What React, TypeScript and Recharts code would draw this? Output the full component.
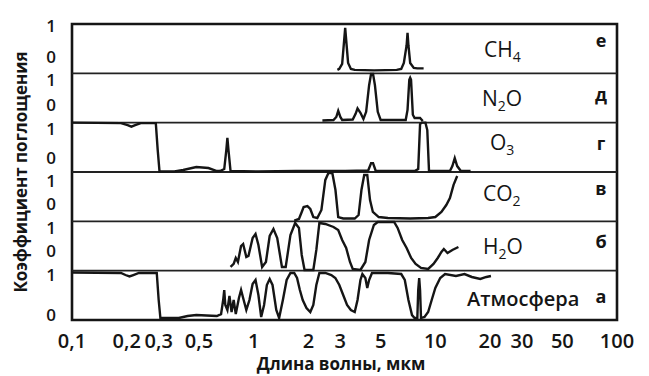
import React from "react";
import { LineChart, Line, XAxis, YAxis, ReferenceLine, ReferenceArea } from "recharts";

// wavelength ticks (µm), log axis
const xTicks = [0.1, 0.2, 0.3, 0.5, 1, 2, 3, 5, 10, 20, 30, 50, 100];
const yTickValues = [0.1, 0.91, 1.4, 1.86, 2.35, 2.82, 3.28, 3.87, 4.36, 4.865, 5.33, 5.97];
const yTickLabels = ["0", "1", "0", "1", "0", "1", "0", "1", "0", "1", "0", "1"];

// panels from bottom to top
const panelLetters = ["а", "б", "в", "г", "д", "е"];

const ch4Wavelength = [2.89, 2.96, 3.07, 3.15, 3.19, 3.23, 3.31, 3.43, 3.6, 4.6, 6.13, 6.49, 6.71, 6.95, 7.03, 7.11, 7.27, 7.61, 7.96, 8.62];
const ch4Absorption = [0.07, 0.09, 0.19, 0.68, 0.92, 0.68, 0.21, 0.09, 0.07, 0.06, 0.07, 0.09, 0.21, 0.57, 0.82, 0.57, 0.21, 0.11, 0.1, 0.1];

const n2oWavelength = [2.39, 2.75, 2.85, 2.92, 3.0, 3.07, 3.51, 3.64, 3.73, 3.87, 4.02, 4.16, 4.32, 4.43, 4.54, 4.65, 4.82, 5.0, 5.8, 6.87, 7.03, 7.19, 7.27, 7.35, 7.52, 7.69, 8.24, 8.53];
const n2oAbsorption = [0.045, 0.055, 0.115, 0.24, 0.115, 0.055, 0.065, 0.18, 0.29, 0.2, 0.075, 0.22, 0.76, 0.99, 0.99, 0.76, 0.22, 0.055, 0.055, 0.055, 0.26, 0.87, 0.91, 0.87, 0.16, 0.095, 0.095, 0.035];

const o3Wavelength = [0.1, 0.186, 0.2024, 0.2123, 0.2227, 0.239, 0.2893, 0.2963, 0.3032, 0.3663, 0.409, 0.4834, 0.5637, 0.627, 0.6528, 0.6887, 0.7072, 0.7167, 0.7264, 0.746, 1.06, 1.71, 3.19, 4.27, 4.43, 4.54, 4.7, 7.7, 8.05, 8.24, 8.43, 8.82, 9.03, 9.23, 12.03, 12.41, 12.79, 13.19, 13.82, 15.63];
const o3Absorption = [1.0, 0.99, 0.95, 0.92, 0.95, 0.99, 0.99, 0.45, 0.01, 0.01, 0.04, 0.1, 0.08, 0.02, 0.02, 0.06, 0.45, 0.69, 0.45, 0.02, 0.01, 0.02, 0.02, 0.03, 0.18, 0.18, 0.02, 0.02, 0.06, 0.97, 1.0, 1.0, 0.85, 0.02, 0.02, 0.12, 0.28, 0.12, 0.02, 0.02];

const co2Wavelength = [1.672, 1.775, 1.839, 1.884, 1.976, 2.05, 2.13, 2.24, 2.36, 2.48, 2.58, 2.71, 2.82, 2.92, 3.11, 3.6, 3.78, 3.92, 4.06, 4.22, 4.37, 4.53, 4.88, 5.48, 7.27, 9.13, 10.0, 10.8, 11.49, 12.03, 12.6, 13.19];
const co2Absorption = [0.016, 0.047, 0.19, 0.29, 0.31, 0.25, 0.087, 0.067, 0.23, 0.84, 0.98, 0.98, 0.635, 0.087, 0.057, 0.057, 0.128, 0.635, 0.94, 0.94, 0.43, 0.19, 0.087, 0.067, 0.057, 0.067, 0.087, 0.19, 0.33, 0.47, 0.74, 0.92];

const h2oWavelength = [0.746, 0.776, 0.797, 0.819, 0.852, 0.875, 0.911, 0.936, 0.987, 1.024, 1.062, 1.113, 1.168, 1.225, 1.285, 1.348, 1.431, 1.501, 1.594, 1.692, 1.775, 1.839, 1.906, 2.13, 2.213, 2.3, 2.48, 2.75, 2.92, 3.07, 3.23, 3.39, 3.51, 3.87, 4.12, 4.32, 4.59, 4.82, 5.93, 6.2, 6.57, 6.95, 7.36, 7.79, 8.34, 9.13, 9.77, 10.31, 10.8, 11.14, 11.67, 12.41, 13.4];
const h2oAbsorption = [0.075, 0.136, 0.257, 0.176, 0.5, 0.54, 0.278, 0.298, 0.663, 0.744, 0.521, 0.075, 0.176, 0.703, 0.845, 0.663, 0.075, 0.075, 0.724, 0.967, 0.866, 0.318, 0.014, 0.014, 0.42, 0.967, 0.947, 0.886, 0.825, 0.622, 0.46, 0.176, 0.034, 0.014, 0.176, 0.622, 0.926, 0.987, 0.987, 0.866, 0.622, 0.46, 0.257, 0.136, 0.055, 0.034, 0.136, 0.257, 0.379, 0.44, 0.359, 0.42, 0.48];

const atmWavelength = [0.1, 0.186, 0.197, 0.2072, 0.2175, 0.2335, 0.2928, 0.3, 0.3066, 0.3872, 0.4327, 0.4834, 0.549, 0.627, 0.6616, 0.6795, 0.6887, 0.698, 0.7167, 0.7358, 0.7558, 0.7762, 0.7972, 0.8296, 0.8524, 0.8751, 0.911, 0.948, 0.9867, 1.024, 1.062, 1.1, 1.141, 1.182, 1.225, 1.27, 1.332, 1.381, 1.448, 1.519, 1.594, 1.672, 1.733, 1.796, 1.862, 1.953, 2.05, 2.13, 2.213, 2.3, 2.48, 2.676, 2.816, 2.961, 3.11, 3.266, 3.428, 3.6, 3.73, 3.87, 3.967, 4.12, 4.22, 4.32, 4.48, 5.48, 6.49, 6.79, 7.11, 7.44, 7.69, 7.96, 8.05, 8.15, 8.24, 8.34, 8.72, 9.13, 9.55, 10.0, 10.64, 11.31, 12.99, 14.47, 15.88, 17.68, 19.1, 20.24];
const atmAbsorption = [0.963, 0.953, 0.912, 0.882, 0.912, 0.953, 0.953, 0.405, 0.04, 0.04, 0.081, 0.1, 0.091, 0.081, 0.12, 0.405, 0.608, 0.304, 0.203, 0.487, 0.162, 0.405, 0.12, 0.446, 0.608, 0.446, 0.203, 0.405, 0.73, 0.811, 0.507, 0.061, 0.304, 0.71, 0.831, 0.71, 0.203, 0.04, 0.405, 0.811, 0.953, 0.953, 0.851, 0.608, 0.405, 0.243, 0.162, 0.304, 0.71, 0.953, 0.953, 0.912, 0.851, 0.71, 0.507, 0.304, 0.203, 0.162, 0.405, 0.811, 0.932, 0.851, 0.649, 0.811, 0.953, 0.953, 0.932, 0.811, 0.405, 0.1, 0.04, 0.04, 0.608, 0.851, 0.608, 0.04, 0.061, 0.162, 0.405, 0.649, 0.851, 0.932, 0.892, 0.932, 0.872, 0.831, 0.872, 0.892];

// each panel is one unit tall, panel 0 at the bottom
const rows = (xs: number[], ys: number[], panel: number) =>
  xs.map((x, i) => ({ x, y: panel + ys[i] }));

const series = [
  rows(atmWavelength, atmAbsorption, 0),
  rows(h2oWavelength, h2oAbsorption, 1),
  rows(co2Wavelength, co2Absorption, 2),
  rows(o3Wavelength, o3Absorption, 3),
  rows(n2oWavelength, n2oAbsorption, 4),
  rows(ch4Wavelength, ch4Absorption, 5),
];

const fmtX = (v: number) => String(v).replace(".", ",");
const ink = "#151515";
const font = "'Open Sans', sans-serif";

function Formula({ x, y, main, sub, tail }: { x: number; y: number; main: string; sub: string; tail?: string }) {
  return (
    <text x={x} y={y} fontSize={21} fontFamily={font} fill={ink}>
      {main}
      <tspan fontSize={14} dy={5}>{sub}</tspan>
      {tail ? <tspan fontSize={21} dy={-5}>{tail}</tspan> : null}
    </text>
  );
}

export default function App() {
  const letterY = [303, 248, 195, 150, 101, 47];
  return (
    <div style={{ position: "absolute", left: 0, top: 0, width: 649, height: 376, background: "#fff" }}>
      <LineChart width={649} height={376} margin={{ top: 24, right: 32, bottom: 26, left: 0 }}>
        <XAxis
          type="number"
          dataKey="x"
          scale="log"
          domain={[0.1, 100]}
          ticks={xTicks}
          interval={0}
          allowDataOverflow
          tickFormatter={fmtX}
          axisLine={false}
          tickLine={false}
          tickSize={0}
          tickMargin={14}
          height={30}
          tick={{ fill: ink, fontSize: 20, fontFamily: font, fontWeight: 600 }}
        />
        <YAxis
          type="number"
          domain={[0, 6]}
          ticks={yTickValues}
          interval={0}
          allowDataOverflow
          tickFormatter={(_v: number, i: number) => yTickLabels[i]}
          axisLine={false}
          tickLine={false}
          tickSize={0}
          tickMargin={16}
          width={72}
          tick={{ fill: ink, fontSize: 17, fontFamily: font, fontWeight: 600 }}
        />
        {[1, 2, 3, 4, 5].map((k) => (
          <ReferenceLine key={k} y={k} stroke="#222" strokeWidth={1.8} />
        ))}
        <ReferenceArea x1={0.1} x2={100} y1={0} y2={6} fill="none" stroke={ink} strokeWidth={2.6} ifOverflow="visible" />
        {series.map((d, i) => (
          <Line
            key={i}
            data={d}
            dataKey="y"
            type="linear"
            stroke={ink}
            strokeWidth={2.4}
            dot={false}
            activeDot={false}
            isAnimationActive={false}
          />
        ))}
      </LineChart>
      <svg width={649} height={376} style={{ position: "absolute", left: 0, top: 0, pointerEvents: "none" }}>
        <Formula x={484} y={57} main="CH" sub="4" />
        <Formula x={482} y={106} main="N" sub="2" tail="O" />
        <Formula x={490} y={150} main="O" sub="3" />
        <Formula x={483} y={201} main="CO" sub="2" />
        <Formula x={483} y={254} main="H" sub="2" tail="O" />
        <text x={467} y={306} fontSize={20} fontFamily={font} fontWeight={600} fill={ink}>Атмосфера</text>
        {panelLetters.map((l, i) => (
          <text key={l} x={601} y={letterY[i]} textAnchor="middle" fontSize={18} fontFamily={font} fontWeight={700} fill={ink}>
            {l}
          </text>
        ))}
        <text transform="translate(20,172) rotate(-90)" textAnchor="middle" dominantBaseline="central" fontSize={17} fontFamily={font} fontWeight={700} fill={ink}>
          Коэффициент поглощения
        </text>
        <text x={341} y={370} textAnchor="middle" fontSize={17} fontFamily={font} fontWeight={700} fill={ink}>
          Длина волны, мкм
        </text>
      </svg>
    </div>
  );
}
